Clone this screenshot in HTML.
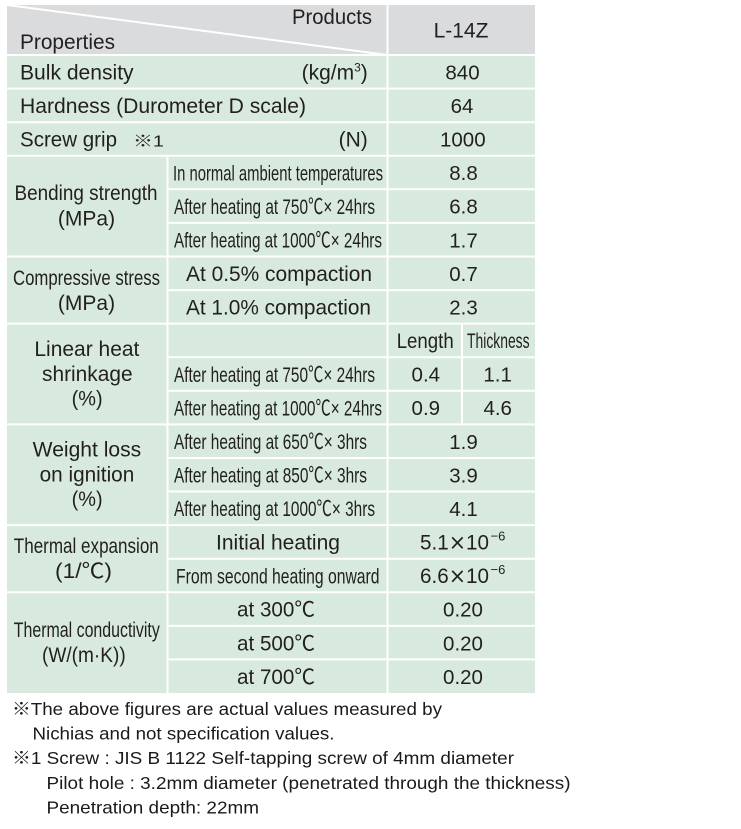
<!DOCTYPE html>
<html>
<head>
<meta charset="utf-8">
<style>
html,body{margin:0;padding:0;background:#fff;}
svg{display:block;}
text{font-family:"Liberation Sans","Noto Sans CJK JP",sans-serif;fill:#231f20;font-size:21px;}
.c{font-size:21.5px;}
.v{font-size:20.5px;}
.f{font-size:17.5px;fill:#1a1a1a;}
.x{font-family:"DejaVu Sans",sans-serif;}
</style>
</head>
<body>
<svg width="741" height="829" viewBox="0 0 741 829" xmlns="http://www.w3.org/2000/svg">
  <!-- backgrounds -->
  <rect x="7" y="5" width="528" height="688" fill="#d7eadd"/>
  <rect x="7" y="5" width="528" height="50" fill="#dadbdd"/>

  <!-- grid lines -->
  <g stroke="#ffffff" stroke-width="2" fill="none">
    <line x1="7" y1="5" x2="387.5" y2="55"/>
    <line x1="7" y1="55" x2="535" y2="55"/>
    <line x1="7" y1="88.6" x2="535" y2="88.6"/>
    <line x1="7" y1="122.2" x2="535" y2="122.2"/>
    <line x1="7" y1="155.7" x2="535" y2="155.7"/>
    <line x1="167.5" y1="189.3" x2="535" y2="189.3"/>
    <line x1="167.5" y1="222.9" x2="535" y2="222.9"/>
    <line x1="7" y1="256.5" x2="535" y2="256.5"/>
    <line x1="167.5" y1="290.1" x2="535" y2="290.1"/>
    <line x1="7" y1="323.6" x2="535" y2="323.6"/>
    <line x1="167.5" y1="357.2" x2="535" y2="357.2"/>
    <line x1="167.5" y1="390.8" x2="535" y2="390.8"/>
    <line x1="7" y1="424.4" x2="535" y2="424.4"/>
    <line x1="167.5" y1="458" x2="535" y2="458"/>
    <line x1="167.5" y1="491.5" x2="535" y2="491.5"/>
    <line x1="7" y1="525.1" x2="535" y2="525.1"/>
    <line x1="167.5" y1="558.7" x2="535" y2="558.7"/>
    <line x1="7" y1="592.3" x2="535" y2="592.3"/>
    <line x1="167.5" y1="625.9" x2="535" y2="625.9"/>
    <line x1="167.5" y1="659.4" x2="535" y2="659.4"/>
    <line x1="387.5" y1="5" x2="387.5" y2="693"/>
    <line x1="167.5" y1="155.7" x2="167.5" y2="693"/>
    <line x1="462" y1="323.6" x2="462" y2="424.4"/>
  </g>

  <!-- header -->
  <text x="20" y="49" textLength="95" lengthAdjust="spacingAndGlyphs">Properties</text>
  <text x="292" y="24" textLength="80" lengthAdjust="spacingAndGlyphs">Products</text>
  <text x="461" y="37.5" text-anchor="middle">L-14Z</text>

  <!-- single rows -->
  <text x="20" y="79.4" textLength="113.6" lengthAdjust="spacingAndGlyphs">Bulk density</text>
  <text x="367.8" y="79.4" text-anchor="end">(kg/m<tspan font-size="12" dy="-8">3</tspan><tspan dy="8">)</tspan></text>
  <text class="v" x="462.5" y="79.4" text-anchor="middle">840</text>

  <text x="20" y="113" textLength="286" lengthAdjust="spacingAndGlyphs">Hardness (Durometer D scale)</text>
  <text class="v" x="462" y="113" text-anchor="middle">64</text>

  <text x="20" y="146.6" textLength="97" lengthAdjust="spacingAndGlyphs">Screw grip</text>
  <text x="133" y="146.6" style="font-size:16px" textLength="31" lengthAdjust="spacingAndGlyphs">※1</text>
  <text x="367.8" y="146.6" text-anchor="end">(N)</text>
  <text class="v" x="462.8" y="146.6" text-anchor="middle">1000</text>

  <!-- Bending strength -->
  <text x="14.5" y="200" textLength="143" lengthAdjust="spacingAndGlyphs">Bending strength</text>
  <text x="86.5" y="225.5" text-anchor="middle">(MPa)</text>
  <text class="c" x="173" y="180.3" textLength="210" lengthAdjust="spacingAndGlyphs">In normal ambient temperatures</text>
  <text class="c" x="174" y="213.9" textLength="201" lengthAdjust="spacingAndGlyphs">After heating at 750℃× 24hrs</text>
  <text class="c" x="174" y="247.5" textLength="208" lengthAdjust="spacingAndGlyphs">After heating at 1000℃× 24hrs</text>
  <text class="v" x="463.5" y="180.1" text-anchor="middle">8.8</text>
  <text class="v" x="463.5" y="213.7" text-anchor="middle">6.8</text>
  <text class="v" x="463.5" y="247.3" text-anchor="middle">1.7</text>

  <!-- Compressive stress -->
  <text class="c" x="13" y="284.8" textLength="147" lengthAdjust="spacingAndGlyphs">Compressive stress</text>
  <text x="86.5" y="310.2" text-anchor="middle">(MPa)</text>
  <text x="186" y="280.9" textLength="186" lengthAdjust="spacingAndGlyphs">At 0.5% compaction</text>
  <text x="186" y="314.5" textLength="185" lengthAdjust="spacingAndGlyphs">At 1.0% compaction</text>
  <text class="v" x="463.5" y="280.9" text-anchor="middle">0.7</text>
  <text class="v" x="463.5" y="314.5" text-anchor="middle">2.3</text>

  <!-- Linear heat shrinkage -->
  <text x="34.4" y="356" textLength="105" lengthAdjust="spacingAndGlyphs">Linear heat</text>
  <text x="42" y="381" textLength="90.6" lengthAdjust="spacingAndGlyphs">shrinkage</text>
  <text x="71.6" y="405.5" textLength="31" lengthAdjust="spacingAndGlyphs">(%)</text>
  <text x="396.7" y="348" textLength="57" lengthAdjust="spacingAndGlyphs">Length</text>
  <text class="c" x="467" y="348" textLength="62.6" lengthAdjust="spacingAndGlyphs">Thickness</text>
  <text class="c" x="174" y="381.8" textLength="201" lengthAdjust="spacingAndGlyphs">After heating at 750℃× 24hrs</text>
  <text class="c" x="174" y="415.4" textLength="208" lengthAdjust="spacingAndGlyphs">After heating at 1000℃× 24hrs</text>
  <text class="v" x="425.8" y="381.6" text-anchor="middle">0.4</text>
  <text class="v" x="497.6" y="381.6" text-anchor="middle">1.1</text>
  <text class="v" x="425.8" y="415.2" text-anchor="middle">0.9</text>
  <text class="v" x="497.7" y="415.2" text-anchor="middle">4.6</text>

  <!-- Weight loss on ignition -->
  <text x="32.7" y="456.7" textLength="108.5" lengthAdjust="spacingAndGlyphs">Weight loss</text>
  <text x="39.6" y="481.7" textLength="94.7" lengthAdjust="spacingAndGlyphs">on ignition</text>
  <text x="71.6" y="506" textLength="31" lengthAdjust="spacingAndGlyphs">(%)</text>
  <text class="c" x="174" y="449" textLength="193" lengthAdjust="spacingAndGlyphs">After heating at 650℃× 3hrs</text>
  <text class="c" x="174" y="482.6" textLength="193" lengthAdjust="spacingAndGlyphs">After heating at 850℃× 3hrs</text>
  <text class="c" x="174" y="516.1" textLength="201" lengthAdjust="spacingAndGlyphs">After heating at 1000℃× 3hrs</text>
  <text class="v" x="463.5" y="448.8" text-anchor="middle">1.9</text>
  <text class="v" x="463.5" y="482.4" text-anchor="middle">3.9</text>
  <text class="v" x="463.5" y="515.9" text-anchor="middle">4.1</text>

  <!-- Thermal expansion -->
  <text class="c" x="13.8" y="552.9" textLength="145" lengthAdjust="spacingAndGlyphs">Thermal expansion</text>
  <text x="55" y="578.2" textLength="57" lengthAdjust="spacingAndGlyphs">(1/℃)</text>
  <text x="216" y="549.5" textLength="124" lengthAdjust="spacingAndGlyphs">Initial heating</text>
  <text class="c" x="176" y="583.3" textLength="203.5" lengthAdjust="spacingAndGlyphs">From second heating onward</text>
  <text x="420" y="549.5" textLength="69" lengthAdjust="spacingAndGlyphs">5.1<tspan class="x">×</tspan>10</text>
  <text x="490.5" y="540.5" style="font-size:13px">−6</text>
  <text x="420" y="583.1" textLength="69" lengthAdjust="spacingAndGlyphs">6.6<tspan class="x">×</tspan>10</text>
  <text x="490.5" y="574.1" style="font-size:13px">−6</text>

  <!-- Thermal conductivity -->
  <text class="c" x="13.8" y="636.9" textLength="146" lengthAdjust="spacingAndGlyphs">Thermal conductivity</text>
  <text x="42" y="662.2" textLength="83.7" lengthAdjust="spacingAndGlyphs">(W/(m·K))</text>
  <text x="237" y="616.7" textLength="78" lengthAdjust="spacingAndGlyphs">at 300℃</text>
  <text x="237" y="650.3" textLength="78" lengthAdjust="spacingAndGlyphs">at 500℃</text>
  <text x="237" y="683.8" textLength="78" lengthAdjust="spacingAndGlyphs">at 700℃</text>
  <text class="v" x="463" y="616.7" text-anchor="middle">0.20</text>
  <text class="v" x="463" y="650.3" text-anchor="middle">0.20</text>
  <text class="v" x="463" y="683.8" text-anchor="middle">0.20</text>

  <!-- footnotes -->
  <text class="f" x="12" y="715" textLength="430" lengthAdjust="spacingAndGlyphs">※The above figures are actual values measured by</text>
  <text class="f" x="32.5" y="739.5" textLength="302" lengthAdjust="spacingAndGlyphs">Nichias and not specification values.</text>
  <text class="f" x="12" y="764" textLength="502" lengthAdjust="spacingAndGlyphs">※1 Screw : JIS B 1122 Self-tapping screw of 4mm diameter</text>
  <text class="f" x="46.5" y="789" textLength="524" lengthAdjust="spacingAndGlyphs">Pilot hole : 3.2mm diameter (penetrated through the thickness)</text>
  <text class="f" x="46.5" y="813.5" textLength="212.5" lengthAdjust="spacingAndGlyphs">Penetration depth: 22mm</text>
</svg>
</body>
</html>
